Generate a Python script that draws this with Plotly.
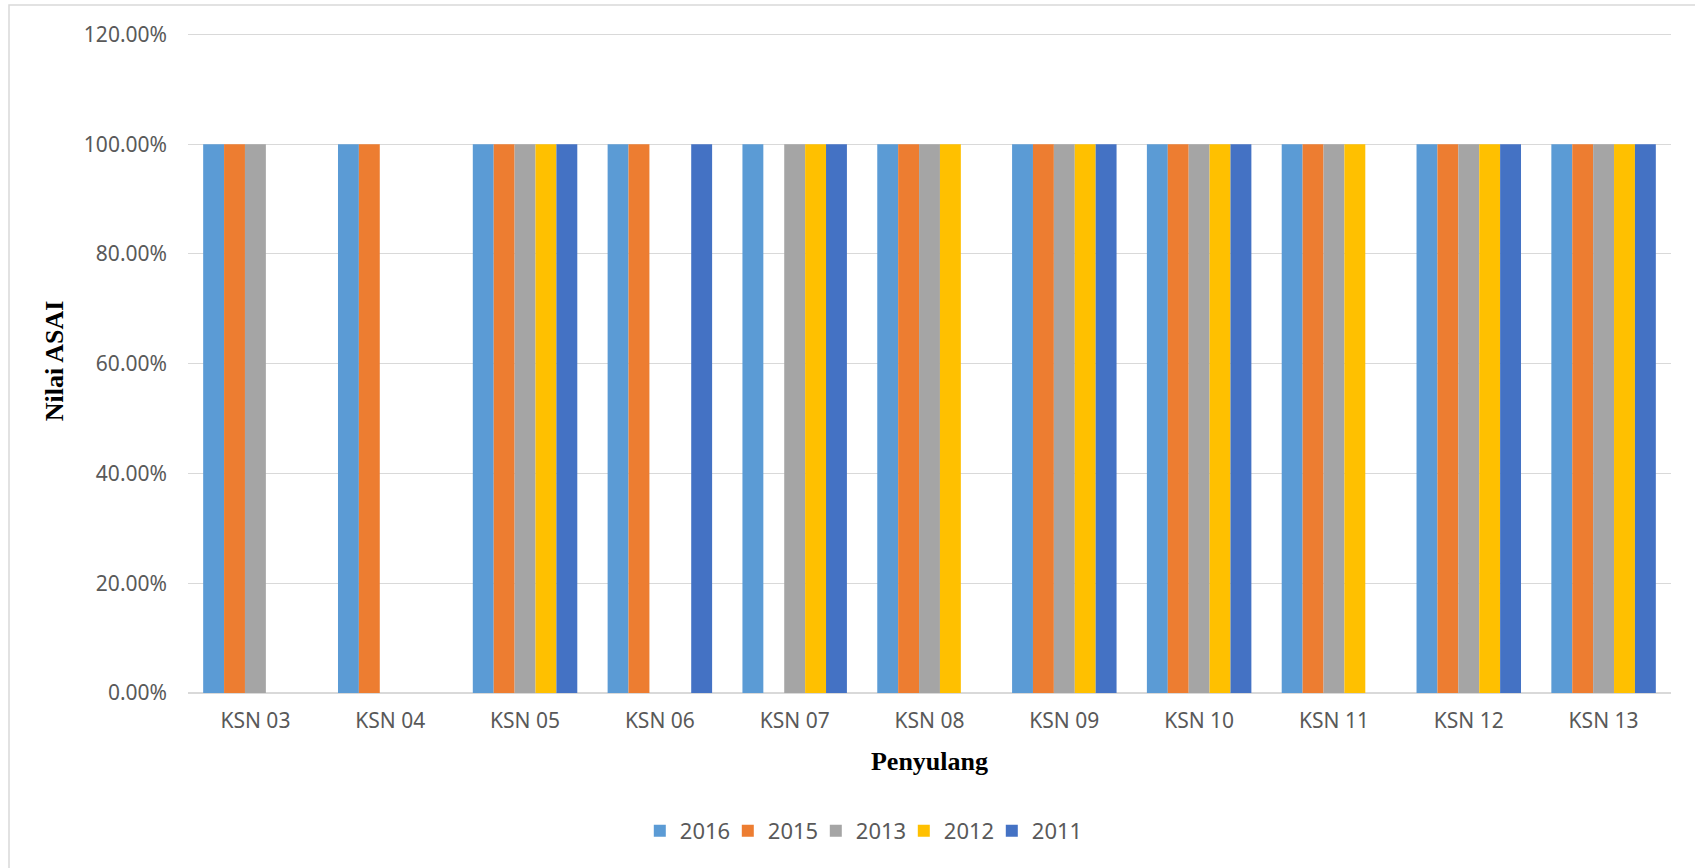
import plotly.graph_objects as go

# Feeder names and ASAI values per year (None = no data for that year)
penyulang = ["KSN 03", "KSN 04", "KSN 05", "KSN 06", "KSN 07", "KSN 08",
             "KSN 09", "KSN 10", "KSN 11", "KSN 12", "KSN 13"]

asai_2016 = [1.0, 1.0, 1.0, 1.0, 1.0, 1.0, 1.0, 1.0, 1.0, 1.0, 1.0]
asai_2015 = [1.0, 1.0, 1.0, 1.0, None, 1.0, 1.0, 1.0, 1.0, 1.0, 1.0]
asai_2013 = [1.0, None, 1.0, None, 1.0, 1.0, 1.0, 1.0, 1.0, 1.0, 1.0]
asai_2012 = [None, None, 1.0, None, 1.0, 1.0, 1.0, 1.0, 1.0, 1.0, 1.0]
asai_2011 = [None, None, 1.0, 1.0, 1.0, None, 1.0, 1.0, None, 1.0, 1.0]

series = [
    ("2016", asai_2016, "#5B9BD5"),
    ("2015", asai_2015, "#ED7D31"),
    ("2013", asai_2013, "#A5A5A5"),
    ("2012", asai_2012, "#FFC000"),
    ("2011", asai_2011, "#4472C4"),
]

W, H = 1695, 868
L, R, T, B = 188, 24, 29, 175
pw, ph = W - L - R, H - T - B

fig = go.Figure()
for name, vals, color in series:
    fig.add_trace(go.Bar(
        x=penyulang, y=vals, name=name,
        marker=dict(color=color, line=dict(width=0)),
        hovertemplate="%{x}<br>" + name + ": %{y:.2%}<extra></extra>",
    ))

tick_font = dict(family="Noto Sans, Liberation Sans, sans-serif", size=21, color="#595959")
title_font = dict(family="Liberation Serif, Times New Roman, serif", size=26, color="#000000")

fig.update_layout(
    width=W, height=H,
    margin=dict(l=L, r=R, t=T, b=B, autoexpand=False),
    paper_bgcolor="white", plot_bgcolor="white",
    barmode="group", bargap=0.225, bargroupgap=0,
    showlegend=True,
    legend=dict(
        orientation="h", x=0.453, xanchor="center", y=(H - B - 831) / ph, yanchor="middle",
        font=dict(family="Noto Sans, Liberation Sans, sans-serif", size=22, color="#595959"),
        traceorder="normal", entrywidth=43, entrywidthmode="pixels",
    ),
    xaxis=dict(
        showgrid=False, zeroline=False, showline=False,
        ticks="", tickfont=tick_font, ticklabelstandoff=13,
        title=dict(text="<b>Penyulang</b>", font=title_font, standoff=18),
    ),
    yaxis=dict(
        range=[0, 1.21], tickvals=[0, 0.2, 0.4, 0.6, 0.8, 1.0, 1.2], tickformat=".2%",
        showgrid=True, gridcolor="#D9D9D9", gridwidth=1.3,
        zeroline=True, zerolinecolor="#D9D9D9", zerolinewidth=1.5,
        showline=False, ticks="", tickfont=tick_font, ticklabelstandoff=20,
        title=dict(text="<b>Nilai ASAI</b>", font=title_font, standoff=12),
    ),
)

# Chart frame (light grey border around the chart area)
fig.add_shape(
    type="rect", xref="paper", yref="paper",
    x0=(9 - L) / pw, x1=(W + 10 - L) / pw,
    y0=(H - B - (H + 10)) / ph, y1=(H - B - 5) / ph,
    line=dict(color="#D9D9D9", width=1.5), fillcolor="rgba(0,0,0,0)",
    layer="below",
)

fig.write_html("out.html")
